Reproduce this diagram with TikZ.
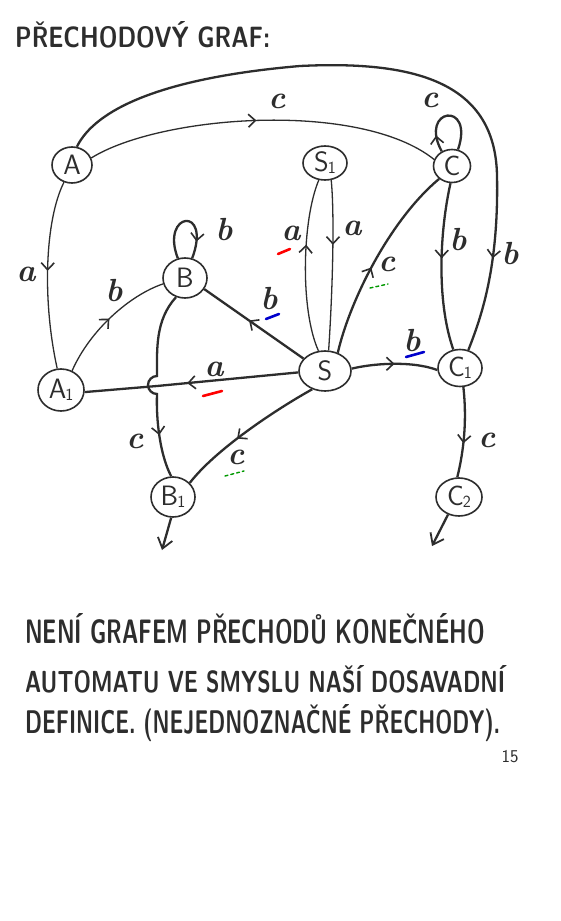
\documentclass[tikz,border=0pt]{standalone}
\usepackage{fontspec}
\usetikzlibrary{arrows.meta,decorations.markings,shapes.geometric}
\definecolor{ink}{RGB}{45,45,45}
\begin{document}
\begin{tikzpicture}[x=1pt,y=-1pt,color=ink,
  st/.style={draw,ellipse,line width=1.6pt,inner sep=0pt,font=\sffamily\fontsize{28}{30}\selectfont},
  edge/.style={line width=2.3pt},
  thinedge/.style={line width=1.3pt},
  midarr/.style={postaction={decorate,decoration={markings,mark=at position #1 with {\arrow[line width=1.6pt]{Straight Barb[length=7pt,width=13pt]}}}}},
  endarr/.style={-{Straight Barb[length=10pt,width=15pt,line width=1.8pt]}},
  lbl/.style={font=\fontsize{32}{34}\selectfont\bfseries\itshape},
  ul/.style={line width=2.6pt,line cap=round},
  txt/.style={anchor=base west,inner sep=0pt,font=\sffamily\bfseries}
]
\useasboundingbox[fill=white] (0,0) rectangle (560,921);

% title
\node[txt] (title) at (15,47) {\resizebox{255pt}{26pt}{PŘECHODOVÝ GRAF:}};

% states
\node[st,minimum width=40pt,minimum height=36pt] (A) at (72,165) {A};
\node[st,minimum width=44pt,minimum height=34pt] (S1) at (325,163) {S\kern-1pt\raisebox{-2pt}{\fontsize{17}{17}\selectfont 1}};
\node[st,minimum width=37pt,minimum height=33pt] (C) at (452,166) {C};
\node[st,minimum width=44pt,minimum height=40pt] (B) at (185,278) {B};
\node[st,minimum width=46pt,minimum height=42pt] (A1) at (61,390) {A\kern-1pt\raisebox{-2pt}{\fontsize{17}{17}\selectfont 1}};
\node[st,minimum width=52pt,minimum height=40pt] (S) at (325,371) {S};
\node[st,minimum width=44pt,minimum height=37pt] (C1) at (460,368) {C\kern-1pt\raisebox{-2pt}{\fontsize{17}{17}\selectfont 1}};
\node[st,minimum width=44pt,minimum height=40pt] (B1) at (173,497) {B\kern-1pt\raisebox{-2pt}{\fontsize{17}{17}\selectfont 1}};
\node[st,minimum width=46pt,minimum height=38pt] (C2) at (459,497) {C\kern-1pt\raisebox{-2pt}{\fontsize{17}{17}\selectfont 2}};

\coordinate (B1out) at (162,550);
\coordinate (C2out) at (432,546);
\coordinate (hopT) at (157,376);

% A -> C (c)
\draw[thinedge,midarr=0.48] (A.20) .. controls (160,115) and (360,100) .. (C.160);
\node[lbl] (lAC) at (277,101) {c};

% A -> C1 (b) big arc
\draw[edge,midarr=0.86] (A.75) .. controls (95,110) and (160,78) .. (300,66)
  .. controls (420,60) and (495,85) .. (497,175)
  .. controls (499,270) and (480,320) .. (C1.65);
\node[lbl] (lAC1) at (510,254) {b};

% C loop (c)
\draw[edge,midarr=0.2] (C.125) .. controls (418,108) and (475,100) .. (C.70);
\node[lbl] (lCC) at (430,100) {c};

% C -> C1 (b)
\draw[edge,midarr=0.45] (C.265) .. controls (440,230) and (436,300) .. (C1.110);
\node[lbl] (lCC1) at (458,240) {b};

% A -> A1 (a)
\draw[thinedge,midarr=0.48] (A.245) .. controls (45,220) and (42,300) .. (A1.100);
\node[lbl] (lAA1) at (26,274) {a};

% A1 -> B (b)
\draw[thinedge,midarr=0.5] (A1.60) .. controls (90,330) and (130,295) .. (B.195);
\node[lbl] (lA1B) at (114,291) {b};

% B loop (b)
\draw[edge,midarr=0.8] (B.110) .. controls (160,212) and (212,205) .. (B.70);
\node[lbl] (lBB) at (224,230) {b};

% S -> B (b)
\draw[edge,midarr=0.55] (S.150) -- (B.330);
\node[lbl] (lSB) at (269,299) {b};
\draw[ul,blue!80!black] (266,319) -- (279,314);

% S -> S1 (a)
\draw[thinedge,midarr=0.62] (S.108) .. controls (300,310) and (302,220) .. (S1.250);
\node[lbl] (lSS1) at (291,233) {a};
\draw[ul,red] (278,254) -- (290,249);

% S1 -> S (a)
\draw[thinedge,midarr=0.38] (S1.290) .. controls (335,220) and (332,300) .. (S.80);
\node[lbl] (lS1S) at (352,228) {a};

% S -> C (c)
\draw[edge,midarr=0.45] (S.55) .. controls (350,300) and (390,220) .. (C.225);
\node[lbl] (lSC) at (387,264) {c};
\draw[ul,green!60!black,dashed,line width=1.4pt] (370,288) -- (388,284);

% S -> A1 (a)
\draw[edge,midarr=0.52] (S.183) -- (157,386) -- (A1.355);
\node[lbl] (lSA1) at (214,369) {a};
\draw[ul,red] (203,396) -- (222,391);

% B -> B1 (c) with hop
\draw[edge,midarr=0.78] (B.245) .. controls (155,320) and (157,350) .. (hopT)
  arc[start angle=90,end angle=270,radius=9pt]
  .. controls (156,420) and (160,455) .. (B1.95);
\node[lbl] (lBB1) at (135,441) {c};

% S -> C1 (b)
\draw[edge,midarr=0.5] (S.5) .. controls (370,364) and (410,360) .. (C1.185);
\node[lbl] (lSC1) at (412,341) {b};
\draw[ul,blue!80!black] (406,357) -- (424,352);

% S -> B1 (c)
\draw[edge,midarr=0.58] (S.235) .. controls (275,410) and (215,450) .. (B1.40);
\node[lbl] (lSB1) at (236,457) {c};
\draw[ul,green!60!black,dashed,line width=1.4pt] (225,476) -- (244,471);

% C1 -> C2 (c)
\draw[edge,midarr=0.62] (C1.280) .. controls (467,420) and (464,450) .. (C2.95);
\node[lbl] (lC1C2) at (487,440) {c};

% exits
\draw[edge,endarr] (B1.265) -- (B1out);
\draw[edge,endarr] (C2.238) -- (C2out);

% bottom text
\node[txt] (t1) at (25,643) {\resizebox{460pt}{30pt}{NENÍ GRAFEM PŘECHODŮ KONEČNÉHO}};
\node[txt] (t2) at (25,692) {\resizebox{480pt}{27pt}{AUTOMATU VE SMYSLU NAŠÍ DOSAVADNÍ}};
\node[txt] (t3) at (25,733) {\resizebox{475pt}{29pt}{DEFINICE. (NEJEDNOZNAČNÉ PŘECHODY).}};
\node[font=\sffamily\fontsize{18}{20}\selectfont] (pg) at (510,757) {15};
\end{tikzpicture}
\end{document}
